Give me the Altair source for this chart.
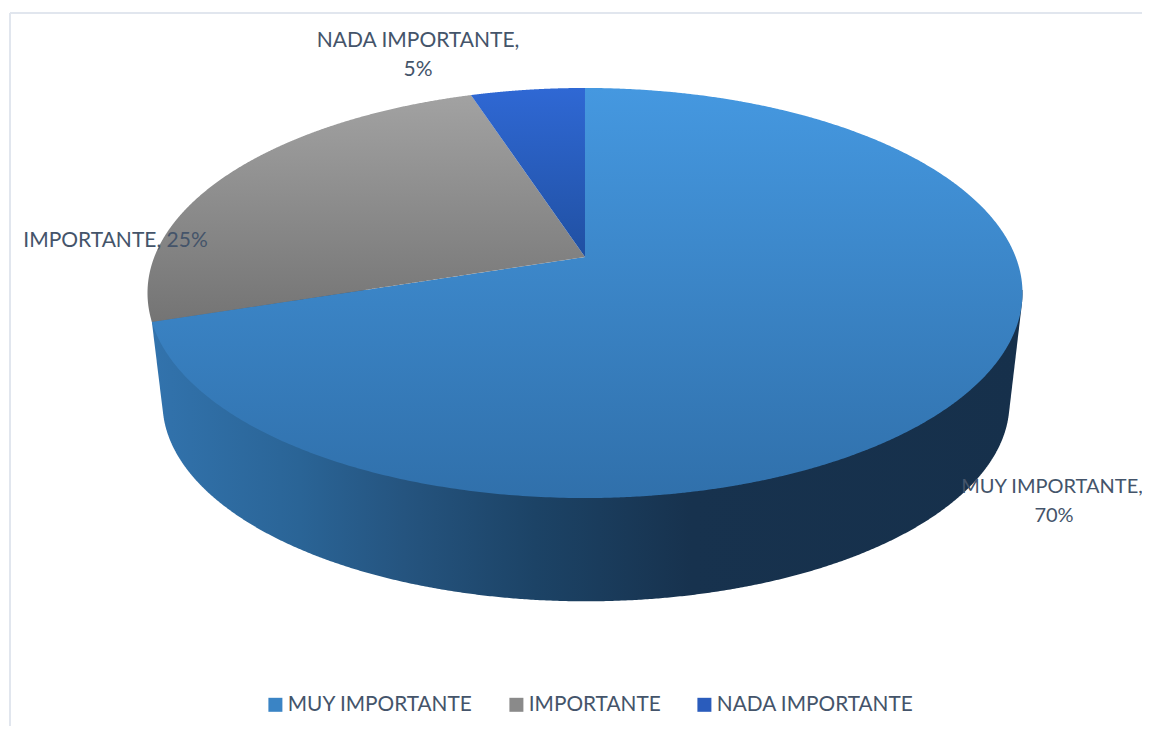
import numpy as np
import pandas as pd
import altair as alt

# ---- chart values ----
categories = ["MUY IMPORTANTE", "IMPORTANTE", "NADA IMPORTANTE"]
shares = [70, 25, 5]
legend_colors = ["#3a84c5", "#8a8a8a", "#2a5cbc"]

top_stops = [
    [("#4598e0", 0), ("#3070ab", 1)],
    [("#a2a2a2", 0), ("#747474", 1)],
    [("#2f68d4", 0), ("#2050a2", 1)],
]
wall_stops = [("#3273ad", 0), ("#2a6496", 0.17), ("#25547f", 0.29),
              ("#1c4366", 0.44), ("#17324e", 0.62), ("#16304b", 1)]

FONT = "Lato"
TEXT = "#44546a"
FS = 21

# ---- projection of the tilted disc (perspective view of a circle) ----
CX, CY, A, B, K = 585.0, 257.0, 430.7, 198.7, 0.1756
S, CY2, CX2 = 0.968, 368.0, 586.0


def rim(deg, cx=CX, cy=CY, s=1.0):
    t = np.radians(deg)
    u, v = np.sin(t), np.cos(t)
    w = 1 + K * v
    return cx + s * A * u / w, cy - s * B * v / w


def strips(px, py):
    """Turn a closed polygon into upper/lower bounds per x for an area mark."""
    x0, y0 = px, py
    x1, y1 = np.roll(px, -1), np.roll(py, -1)
    xs = np.unique(np.concatenate([px - 0.01, px + 0.01]))
    rows = []
    for x in xs:
        hit = (x0 - x) * (x1 - x) < 0
        if hit.sum() < 2:
            continue
        ys = y0[hit] + (x - x0[hit]) * (y1[hit] - y0[hit]) / (x1[hit] - x0[hit])
        rows.append({"x": float(x), "y": float(ys.min()), "y2": float(ys.max())})
    return pd.DataFrame(rows)


W, H = 1134, 718
X = alt.X("x:Q", scale=alt.Scale(domain=[8, 8 + W], nice=False, zero=False), axis=None)
Y = alt.Y("y:Q", scale=alt.Scale(domain=[8 + H, 8], nice=False, zero=False), axis=None)


def grad(stops, horizontal=False):
    return alt.Gradient(
        gradient="linear",
        stops=[alt.GradientStop(color=c, offset=o) for c, o in stops],
        x1=0, y1=0,
        x2=1 if horizontal else 0,
        y2=0 if horizontal else 1,
    )


# ---- side wall: lower hull of the two rims, from the first slice's end ----
edges = np.cumsum([0] + shares) * 3.6
wall_start = rim(edges[1])
ang = np.linspace(0, 360, 1441)
bx, by = rim(ang, CX2, CY2, S)
tx, ty = rim(ang)
keep_t = tx >= CX
keep_b = bx >= wall_start[0]
pts = sorted(set(zip(np.r_[bx[keep_b], tx[keep_t], wall_start[0]].tolist(),
                     np.r_[by[keep_b], ty[keep_t], wall_start[1]].tolist())))
hull = []
for p in pts:
    while len(hull) >= 2:
        (ax, ay), (cx_, cy_) = hull[-2], hull[-1]
        if (cx_ - ax) * (p[1] - ay) - (cy_ - ay) * (p[0] - ax) >= 0:
            hull.pop()
        else:
            break
    hull.append(p)
wall = pd.DataFrame({"x": [p[0] for p in hull], "y": [p[1] for p in hull]})
wall["y2"] = 290.0

layers = []
layers.append(
    alt.Chart(wall).mark_area(color=grad(wall_stops, True), stroke=None).encode(x=X, y=Y, y2="y2:Q")
)

# ---- top surface: one sector per category ----
for i in range(len(shares)):
    deg = np.linspace(edges[i], edges[i + 1], 500)
    rx, ry = rim(deg)
    px = np.r_[CX, rx]
    py = np.r_[CY, ry]
    layers.append(
        alt.Chart(strips(px, py)).mark_area(color=grad(top_stops[i])).encode(x=X, y=Y, y2="y2:Q")
    )

# ---- frame ----
frame = pd.DataFrame({"x": [10.0, 10.0], "x2": [10.0, 8.0 + W], "y": [13.0, 13.0], "y2": [8.0 + H, 13.0]})
layers.append(
    alt.Chart(frame).mark_rule(color="#e1e6ee", strokeWidth=2).encode(x=X, x2="x2:Q", y=Y, y2="y2:Q")
)

# ---- data labels ----
labels = pd.DataFrame([
    {"x": 1052, "y": 487, "t": f"{categories[0]},", "fs": 20},
    {"x": 1054, "y": 516, "t": f"{shares[0]}%", "fs": 20},
    {"x": 115.5, "y": 241, "t": f"{categories[1]}, {shares[1]}%", "fs": FS},
    {"x": 418, "y": 41, "t": f"{categories[2]},", "fs": FS},
    {"x": 418, "y": 70, "t": f"{shares[2]}%", "fs": FS},
])
layers.append(
    alt.Chart(labels).mark_text(font=FONT, color=TEXT, align="center", baseline="middle")
    .encode(x=X, y=Y, text="t:N", size=alt.Size("fs:Q", scale=None, legend=None))
)

# ---- legend ----
key = pd.DataFrame({"cat": categories, "x": [20.0] * 3, "y": [20.0] * 3})
layers.append(
    alt.Chart(key).mark_square(size=0, opacity=1).encode(
        x=X, y=Y,
        color=alt.Color(
            "cat:N",
            scale=alt.Scale(domain=categories, range=legend_colors),
            legend=alt.Legend(
                title=None, orient="none", legendX=257, legendY=686, direction="horizontal",
                symbolType="square", symbolSize=196, symbolOpacity=1, symbolStrokeWidth=0,
                labelFont=FONT, labelFontSize=20.8, labelColor=TEXT, columnPadding=33,
                labelOffset=2, labelLimit=400,
            ),
        ),
    )
)

chart = alt.layer(*layers).properties(
    width=W, height=H, padding=0, autosize=alt.AutoSizeParams(type="none"), background="white"
).configure_view(stroke=None)

chart.save("out.html", embed_options={"renderer": "svg", "actions": False})
